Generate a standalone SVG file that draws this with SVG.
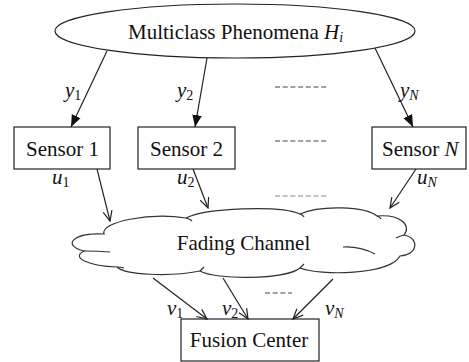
<svg xmlns="http://www.w3.org/2000/svg" width="469" height="362" viewBox="0 0 469 362">
<defs>
<marker id="fill" viewBox="0 0 10 10" refX="10" refY="5" markerWidth="12" markerHeight="12" markerUnits="userSpaceOnUse" orient="auto"><path d="M0,1 L10,5 L0,9 z" fill="#111"/></marker>
<marker id="open" viewBox="0 0 12 12" refX="11" refY="6" markerWidth="12" markerHeight="12" markerUnits="userSpaceOnUse" orient="auto"><path d="M1,1.5 L11,6 L1,10.5" fill="none" stroke="#222" stroke-width="1.2"/></marker>
</defs>
<rect width="469" height="362" fill="#fff"/>

<g font-family="Liberation Serif" font-size="21" fill="#111">
<g id="phenomena">
<ellipse cx="235" cy="31" rx="180" ry="27" fill="#fff" stroke="#222" stroke-width="1.2"/>
<text x="128" y="39">Multiclass Phenomena <tspan font-style="italic">H</tspan><tspan font-style="italic" font-size="14" dy="3">i</tspan></text>
</g>

<g id="sensor1">
<rect x="14" y="127" width="96" height="42" fill="#fff" stroke="#222" stroke-width="1.2"/>
<text x="62.5" y="156" text-anchor="middle">Sensor 1</text>
</g>
<g id="sensor2">
<rect x="138" y="127" width="97" height="42" fill="#fff" stroke="#222" stroke-width="1.2"/>
<text x="186.5" y="156" text-anchor="middle">Sensor 2</text>
</g>
<g id="sensorN">
<rect x="372" y="127" width="94" height="42" fill="#fff" stroke="#222" stroke-width="1.2"/>
<text x="382" y="156">Sensor <tspan font-style="italic">N</tspan></text>
</g>

<g id="channel">
<path fill="#fff" stroke="#333" stroke-width="1.2" d="M104,234 C100,222 150,212 186,218 C205,208 280,205 300,214 C320,205 365,206 377,216 C400,214 412,225 404,235 C420,238 418,255 400,256 C390,275 320,276 300,268 C285,280 215,280 200,271 C170,277 125,275 117,267 C90,266 70,258 84,251 C62,246 72,232 104,234 Z"/>
<path fill="none" stroke="#333" stroke-width="1.2" d="M186,218 Q190,219 192,221 M300,214 Q303,215 304,217 M377,216 Q380,217 381,219 M404,235 Q400,236 396,238 M343,247 C355,246 368,250 375,254 M200,271 Q202,269 204,267 M300,268 Q302,266 304,264 M84,251 Q98,251 110,252 M117,267 Q121,267 124,268"/>
<text x="243.5" y="250" text-anchor="middle">Fading Channel</text>
</g>

<g id="fusion">
<rect x="181" y="319" width="138" height="42" fill="#fff" stroke="#222" stroke-width="1.2"/>
<text x="249" y="347" text-anchor="middle">Fusion Center</text>
</g>

<g id="connectors">
<g stroke="#222" stroke-width="1.2" fill="none">
<line x1="107" y1="51" x2="71" y2="127" marker-end="url(#fill)"/>
<line x1="207" y1="58" x2="195" y2="127" marker-end="url(#fill)"/>
<line x1="375" y1="48" x2="413" y2="127" marker-end="url(#fill)"/>
<line x1="97" y1="169" x2="110" y2="221" marker-end="url(#open)"/>
<line x1="193" y1="169" x2="208" y2="208" marker-end="url(#open)"/>
<line x1="416" y1="169" x2="390" y2="208" marker-end="url(#open)"/>
<line x1="153" y1="278" x2="207" y2="319" marker-end="url(#open)"/>
<line x1="223" y1="278" x2="248" y2="319" marker-end="url(#open)"/>
<line x1="333" y1="279" x2="293" y2="319" marker-end="url(#open)"/>
</g>
<g stroke="#444" stroke-width="1" stroke-dasharray="5,2.7">
<line x1="275" y1="87" x2="328" y2="87"/>
<line x1="275" y1="141" x2="328" y2="141"/>
<line x1="275" y1="196" x2="328" y2="196" stroke="#888"/>
<line x1="265" y1="293" x2="292" y2="293"/>
</g>
<text font-style="italic" x="65" y="97">y<tspan font-size="14" font-style="normal" dy="3">1</tspan></text>
<text font-style="italic" x="177" y="97">y<tspan font-size="14" font-style="normal" dy="3">2</tspan></text>
<text font-style="italic" x="400" y="97">y<tspan font-size="14" dy="3">N</tspan></text>
<text font-style="italic" x="52" y="184">u<tspan font-size="14" font-style="normal" dy="3">1</tspan></text>
<text font-style="italic" x="177" y="184">u<tspan font-size="14" font-style="normal" dy="3">2</tspan></text>
<text font-style="italic" x="417" y="184">u<tspan font-size="14" dy="3">N</tspan></text>
<text font-style="italic" x="167" y="315">v<tspan font-size="14" font-style="normal" dy="3">1</tspan></text>
<text font-style="italic" x="222" y="315">v<tspan font-size="14" font-style="normal" dy="3">2</tspan></text>
<text font-style="italic" x="325" y="315">v<tspan font-size="14" dy="3">N</tspan></text>
</g>
</g>
</svg>
